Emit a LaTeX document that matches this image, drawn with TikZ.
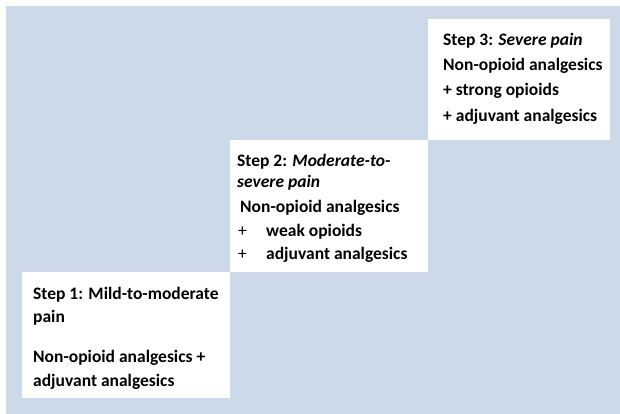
\documentclass[tikz,border=0pt]{standalone}
\usepackage{fontspec}
\setmainfont{Carlito}
\definecolor{stairblue}{RGB}{204,217,232}
\tikzset{
  stepbox/.style={fill=white, draw=none},
  steptext/.style={anchor=base west, inner sep=0pt, font=\fontsize{17.5}{20}\selectfont\bfseries},
}
\newcommand{\plusgap}[1]{\makebox[28pt][l]{\mdseries +}#1}
\begin{document}
\begin{tikzpicture}[x=1pt,y=-1pt]
        \useasboundingbox (0,0) rectangle (620,414);
        \fill[stairblue] (6,6) rectangle (620,414);
        % the three steps
        \fill[stepbox] (22,272) rectangle (230,398);
        \fill[stepbox] (230,140) rectangle (428,272);
        \fill[stepbox] (428,19) rectangle (610,140);
        % step 1
        \node[steptext] (s1a) at (33,299) {Step 1: Mild-to-moderate};
        \node[steptext] (s1b) at (33,322) {pain};
        \node[steptext] (s1c) at (33,362) {Non-opioid analgesics +};
        \node[steptext] (s1d) at (33,386) {adjuvant analgesics};
        % step 2
        \node[steptext] (s2a) at (237,167) {Step 2: \textit{Moderate-to-}};
        \node[steptext] (s2b) at (237,187) {\textit{severe pain}};
        \node[steptext] (s2c) at (240,212) {Non-opioid analgesics};
        \node[steptext] (s2d) at (238,236) {\plusgap{weak opioids}};
        \node[steptext] (s2e) at (238,259) {\plusgap{adjuvant analgesics}};
        % step 3
        \node[steptext] (s3a) at (443,46) {Step 3: \textit{Severe pain}};
        \node[steptext] (s3b) at (443,71) {Non-opioid analgesics};
        \node[steptext] (s3c) at (443,96) {+ strong opioids};
        \node[steptext] (s3d) at (443,122) {+ adjuvant analgesics};
\end{tikzpicture}
\end{document}
